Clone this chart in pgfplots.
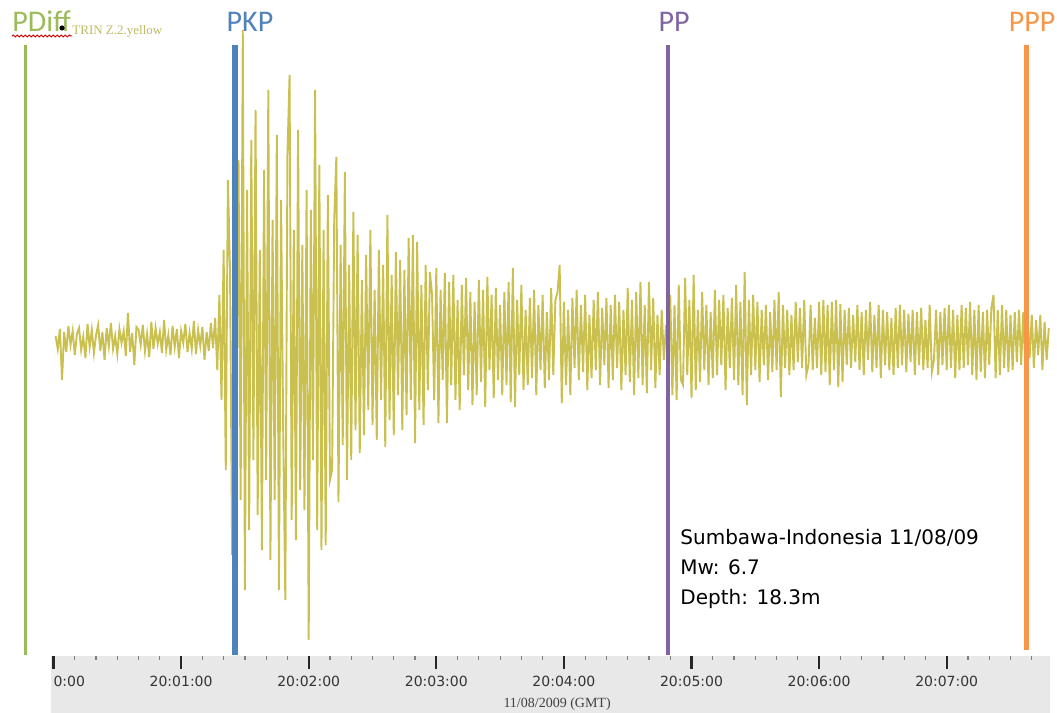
\documentclass[border=0pt]{standalone}
\usepackage{pgfplots}
\pgfplotsset{compat=1.18}
\usepackage{fontspec}
\setmainfont{DejaVu Sans}
\newfontfamily\calibri{Carlito}
\newfontfamily\timesfont{Liberation Serif}
\usetikzlibrary{decorations.pathmorphing}

\definecolor{trace}{RGB}{202,192,80}
\definecolor{pdiffc}{RGB}{155,187,89}
\definecolor{pkpc}{RGB}{79,129,189}
\definecolor{ppc}{RGB}{128,100,162}
\definecolor{pppc}{RGB}{247,150,70}
\definecolor{band}{RGB}{232,232,232}
\definecolor{stationc}{RGB}{190,186,100}

\begin{document}
\begin{tikzpicture}
\begin{axis}[
  at={(0,0)}, anchor=south west,
  scale only axis, width=528.5pt, height=328pt,
  xmin=-25.16, xmax=471.86, ymin=-316, ymax=340,
  axis x line=bottom, axis y line=none,
  x axis line style={draw=none},
  clip=false, axis on top,
  xtick={0,60,120,180,240,300,360,420},
  xticklabels={\makebox[0pt][l]{0:00},20:01:00,20:02:00,20:03:00,20:04:00,20:05:00,20:06:00,20:07:00},
  minor xtick={10,20,...,460},
  tick align=outside,
  major tick length=6.5pt, minor tick length=2pt,
  every major tick/.style={line width=1.1pt, black!85},
  every minor tick/.style={line width=0.6pt, black!50},
  xticklabel style={font=\fontsize{7}{8}\selectfont, text=black!80},
]
% time band under the trace
\fill[band] (axis cs:-1.41,-316) rectangle (axis cs:468.6,-373);
\node[anchor=base, font=\timesfont\fontsize{7}{8}\selectfont, text=black!75]
  at (axis cs:236.8,-368) {11/08/2009 (GMT)};

% vertical component trace, seconds after 20:00:00
\addplot[trace, line width=0.95pt] coordinates {
(1,4) (2,-9) (3,11) (4,-40) (5,8) (6,-12) (7,14) (8,-5) (9,9) (10,-15)
(11,6) (12,12) (13,-10) (14,3) (15,-18) (16,16) (17,-7) (18,10) (19,-13) (20,5)
(21,15) (22,-11) (23,8) (24,-20) (25,12) (26,-6) (27,17) (28,-9) (29,4) (30,-14)
(31,11) (32,-3) (33,9) (34,-16) (35,27) (36,-12) (37,7) (38,-25) (39,13) (40,10)
(41,-5) (42,15) (43,-11) (44,6) (45,-17) (46,18) (47,-9) (48,12) (49,-4) (50,8)
(51,-13) (52,20) (53,-10) (54,5) (55,-15) (56,14) (57,-7) (58,11) (59,-18) (60,9)
(61,-3) (62,16) (63,-12) (64,7) (65,-9) (66,19) (67,-14) (68,10) (69,-6) (70,13)
(71,-20) (72,8) (73,-11) (74,17) (75,-8) (76,22) (77,-30) (78,45) (79,-60) (80,90)
(81,-130) (82,160) (83,70) (84,-215) (85,120) (86,-90) (87,180) (88,-160) (89,310) (90,-250)
(91,150) (92,-190) (93,200) (94,-120) (95,230) (96,-175) (97,90) (98,-210) (99,170) (100,-140)
(101,250) (102,-220) (103,120) (104,-160) (105,205) (106,-250) (107,140) (108,-90) (109,-260) (110,185)
(111,265) (112,-180) (113,110) (114,-200) (115,210) (116,-150) (117,95) (118,-170) (119,150) (120,-300)
(121,130) (122,-120) (123,250) (124,-190) (125,175) (126,-210) (127,110) (128,-205) (129,145) (130,-140)
(131,-130) (132,120) (133,183) (134,-162) (135,95) (136,-105) (137,168) (138,-140) (139,75) (140,-120)
(141,128) (142,-90) (143,105) (144,-113) (145,60) (146,-95) (147,85) (148,-70) (149,110) (150,-85)
(151,50) (152,-100) (153,90) (154,-60) (155,75) (156,-107) (157,125) (158,-80) (159,65) (160,-95)
(161,88) (162,-55) (163,80) (164,-90) (165,70) (166,-75) (167,102) (168,-60) (169,105) (170,-103)
(171,98) (172,-70) (173,55) (174,-85) (175,75) (176,-50) (177,68) (178,45) (179,-60) (180,72)
(181,-83) (182,50) (183,-40) (184,67) (185,-83) (186,58) (187,-45) (188,65) (189,-60) (190,40)
(191,-70) (192,55) (193,-35) (194,62) (195,-50) (196,48) (197,-65) (198,38) (199,-55) (200,60)
(201,-42) (202,50) (203,-67) (204,63) (205,-30) (206,45) (207,-58) (208,52) (209,-40) (210,35)
(211,-55) (212,48) (213,-45) (214,58) (215,-62) (216,72) (217,-67) (218,40) (219,-35) (220,55)
(221,-50) (222,30) (223,-45) (224,42) (225,-38) (226,50) (227,-55) (228,35) (229,-30) (230,45)
(231,-48) (232,28) (233,-40) (234,52) (235,-35) (236,40) (237,48) (238,75) (239,-63) (240,38)
(241,-45) (242,30) (243,-55) (244,42) (245,-28) (246,50) (247,-40) (248,35) (249,-32) (250,45)
(251,-50) (252,25) (253,-38) (254,40) (255,-30) (256,48) (257,-45) (258,32) (259,-25) (260,42)
(261,-48) (262,35) (263,-40) (264,45) (265,-28) (266,38) (267,-50) (268,30) (269,-35) (270,52)
(271,-42) (272,40) (273,-55) (274,48) (275,-38) (276,58) (277,-45) (278,35) (279,-53) (280,58)
(281,-30) (282,42) (283,-48) (284,25) (285,-35) (286,30) (287,-20) (288,15) (289,-25) (290,45)
(291,-55) (292,35) (293,-60) (294,55) (295,-40) (296,-45) (297,62) (298,-35) (299,40) (300,-58)
(301,65) (302,-50) (303,30) (304,-42) (305,48) (306,-30) (307,35) (308,-45) (309,28) (310,-38)
(311,50) (312,-35) (313,40) (314,-25) (315,45) (316,-50) (317,32) (318,-28) (319,42) (320,-40)
(321,55) (322,-45) (323,38) (324,-55) (325,68) (326,-65) (327,40) (328,-35) (329,45) (330,-30)
(331,38) (332,-42) (333,30) (334,-25) (335,35) (336,-40) (337,28) (338,-32) (339,40) (340,-30)
(341,48) (342,-57) (343,35) (344,-28) (345,30) (346,-35) (347,25) (348,-30) (349,38) (350,-22)
(351,32) (352,-28) (353,40) (354,-35) (355,-25) (356,35) (357,-30) (358,22) (359,-28) (360,38)
(361,-35) (362,40) (363,-32) (364,35) (365,-45) (366,38) (367,-30) (368,40) (369,-47) (370,36)
(371,-42) (372,30) (373,-25) (374,32) (375,-28) (376,25) (377,-22) (378,35) (379,-30) (380,28)
(381,-35) (382,30) (383,-20) (384,38) (385,-32) (386,25) (387,-28) (388,35) (389,-38) (390,30)
(391,-25) (392,28) (393,-30) (394,22) (395,-35) (396,32) (397,-28) (398,35) (399,-25) (400,30)
(401,-32) (402,26) (403,-22) (404,30) (405,-35) (406,28) (407,-25) (408,32) (409,-30) (410,20)
(411,-28) (412,35) (413,-32) (414,-20) (415,30) (416,-35) (417,28) (418,-25) (419,32) (420,-30)
(421,35) (422,-28) (423,30) (424,-38) (425,25) (426,-30) (427,35) (428,-28) (429,32) (430,-25)
(431,38) (432,-35) (433,30) (434,-40) (435,35) (436,-32) (437,28) (438,-38) (439,30) (440,-25)
(441,32) (442,45) (443,-38) (444,30) (445,-35) (446,35) (447,-28) (448,30) (449,-32) (450,25)
(451,-30) (452,28) (453,-22) (454,30) (455,-25) (456,28) (457,-30) (458,22) (459,-18) (460,25)
(461,-28) (462,20) (463,-15) (464,25) (465,-30) (466,18) (467,-20) (468,12)
};

% phase arrival markers
\addplot[pdiffc, line width=1.5pt] coordinates {(-13.4,295) (-13.4,-315)};
\addplot[pkpc, line width=3pt] coordinates {(85.3,295) (85.3,-315)};
\addplot[ppc, line width=2pt] coordinates {(288.9,295) (288.9,-315)};
\addplot[pppc, line width=2.5pt] coordinates {(457.7,295) (457.7,-310)};

% phase names
\node[anchor=base west, inner sep=0pt, font=\calibri\fontsize{15}{18}\selectfont, text=pdiffc]
  at (axis cs:-19.5,308) {PDiff};
\node[anchor=base, inner sep=0pt, font=\calibri\fontsize{15}{18}\selectfont, text=pkpc]
  at (axis cs:92.4,308) {PKP};
\node[anchor=base, inner sep=0pt, font=\calibri\fontsize{15}{18}\selectfont, text=ppc]
  at (axis cs:291.8,308) {PP};
\node[anchor=base, inner sep=0pt, font=\calibri\fontsize{15}{18}\selectfont, text=pppc]
  at (axis cs:460.1,308) {PPP};
\draw[red!85!black, line width=0.5pt, decorate,
      decoration={snake, amplitude=0.5pt, segment length=2pt}]
  (axis cs:-19.5,304) -- (axis cs:8.7,304);

% station label with the selection handle
\node[anchor=base west, inner sep=0pt, font=\timesfont\fontsize{6.5}{7}\selectfont, text=stationc]
  at (axis cs:8.7,305) {TRIN Z.2.yellow};
\fill[black] (axis cs:4,312) circle (1.3pt);

% event information
\node[anchor=base west, inner sep=0pt, font=\fontsize{10}{12}\selectfont]
  at (axis cs:294.6,-205) {Sumbawa-Indonesia 11/08/09};
\node[anchor=base west, inner sep=0pt, font=\fontsize{10}{12}\selectfont]
  at (axis cs:294.6,-235) {Mw: 6.7};
\node[anchor=base west, inner sep=0pt, font=\fontsize{10}{12}\selectfont]
  at (axis cs:294.6,-265) {Depth: 18.3m};
\end{axis}
\pgfresetboundingbox
\path[use as bounding box] (0,-28.5pt) rectangle (528.5pt,328pt);
\end{tikzpicture}
\end{document}
